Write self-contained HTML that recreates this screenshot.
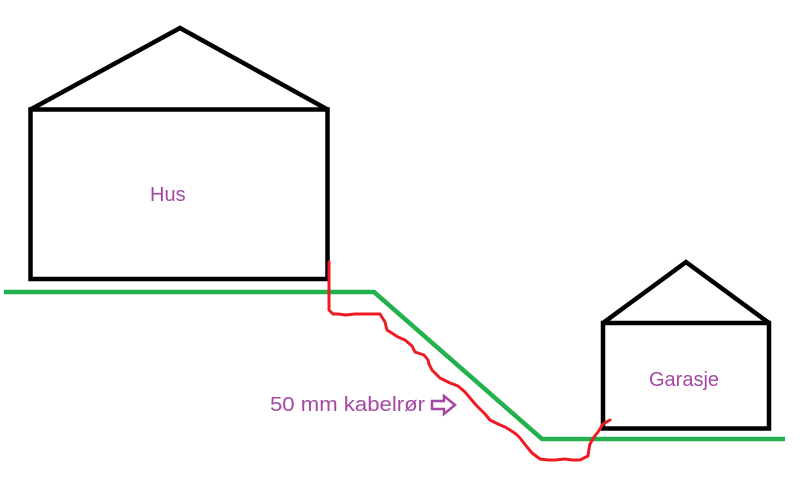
<!DOCTYPE html>
<html><head><style>
html,body{margin:0;padding:0;background:#fff;width:812px;height:482px;overflow:hidden}
svg{display:block}
text{font-family:"Liberation Sans",sans-serif;font-size:20px;fill:#a349a4}
</style></head><body>
<svg width="812" height="482" viewBox="0 0 812 482" xmlns="http://www.w3.org/2000/svg">
<g fill="none" stroke="#000" stroke-width="4.5" stroke-linejoin="miter">
<rect x="30.5" y="109.5" width="297" height="169.5"/>
<polyline points="30.5,109.5 180,28 327.5,109.5"/>
<rect x="603" y="323" width="166" height="105.5"/>
<polyline points="603,323 686,262 769,323"/>
</g>
<polyline points="4,292 374,292 542,439 785,439" fill="none" stroke="#22b14c" stroke-width="4.5"/>
<polyline points="329,262 329,310 333,314 338,314 346,315 355,314 368,314 380,314 385,322 387,330 398,337 405,340 412,346 415,352 424,355 428,360 429,364 432,370 440,378 450,383 458,386 465,392 470,398 476,405 485,414 490,420 498,424 505,427 510,430 516,434 520,438 527,447 532,453 540,459 548,460 555,460 565,459 572,460 580,460 588,456 589,449 590,444 594,437 598,432 603,424 610,420" fill="none" stroke="#ed1c24" stroke-width="3" stroke-linejoin="round" stroke-linecap="round"/>
<text x="150" y="201">Hus</text>
<text x="649" y="386">Garasje</text>
<text x="270" y="411" textLength="155" lengthAdjust="spacingAndGlyphs">50 mm kabelrør</text>
<polygon points="432,401 444,401 444,396 455,405 444,414 444,409 432,409" fill="none" stroke="#a349a4" stroke-width="2.5"/>
</svg>
</body></html>
